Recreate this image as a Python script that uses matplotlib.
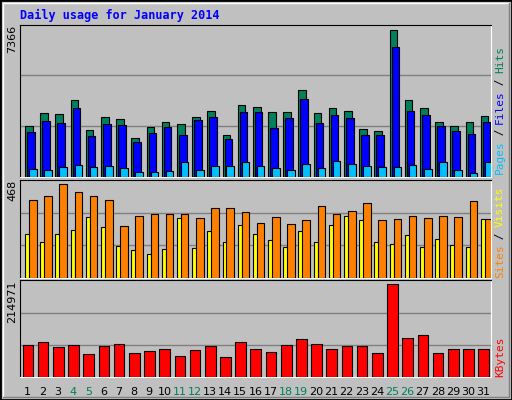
import matplotlib
matplotlib.use("Agg")
import matplotlib.pyplot as plt
from matplotlib.patches import Rectangle
import numpy as np

days = list(range(1, 32))
weekend = [4, 5, 11, 12, 18, 19, 25, 26]
hits = [2566,3216,3166,3866,2366,3016,2916,1966,2516,2766,2666,3016,3316,2116,3616,3516,3266,3266,4366,3216,3466,3316,2416,2316,7366,3866,3466,2766,2566,2766,3066]
files = [2266,2816,2716,3466,2066,2666,2616,1766,2216,2516,2116,2866,3016,1916,3266,3266,2466,2966,3916,2716,3116,2966,2116,2116,6516,3316,3116,2566,2316,2166,2766]
pages = [417,367,517,617,517,567,467,267,267,317,767,367,567,567,767,567,467,367,667,467,817,667,567,517,517,617,417,767,367,217,767]
visits = [387,412,468,432,412,387,259,310,320,320,320,300,351,351,331,275,305,270,290,361,320,336,376,290,295,310,300,310,305,382,295]
sites = [219,178,219,239,305,254,158,137,117,142,300,148,234,178,265,219,188,153,234,178,265,310,290,178,168,214,153,193,163,153,295]
kbytes = [73752,80814,69045,73752,52568,71398,76106,54922,59630,64337,47860,61984,71398,45507,80814,64337,57276,73752,87875,76106,64337,71398,71398,54922,214971,90229,97290,54922,64337,64337,64337]

W, Hh = 512, 400
fig = plt.figure(figsize=(W/100, Hh/100), dpi=100)
fig.patch.set_facecolor("#C0C0C0")
mono = "DejaVu Sans Mono"

fig.add_artist(Rectangle((0, 0), 1, 1, transform=fig.transFigure, fill=False, edgecolor="black", lw=2))
fig.add_artist(plt.Line2D([3/W, 3/W, 1-3/W], [3/Hh, 1-3/Hh, 1-3/Hh], transform=fig.transFigure, color="white", lw=1))
fig.add_artist(plt.Line2D([3/W, 1-3/W, 1-3/W], [3/Hh, 3/Hh, 1-3/Hh], transform=fig.transFigure, color="#808080", lw=1))

def mkax(top, bottom):
    ax = fig.add_axes([20/W, 1-bottom/Hh, 471/W, (bottom-top)/Hh])
    ax.set_facecolor("#C0C0C0")
    ax.set_xlim(0.5, 31.5)
    ax.set_xticks([]); ax.set_yticks([])
    for s in ["top", "left"]:
        ax.spines[s].set_color("black")
    for s in ["bottom", "right"]:
        ax.spines[s].set_color("white")
    for f in (1/3, 2/3):
        ax.plot([0, 1], [f, f], transform=ax.transAxes, color="#808080", lw=1, zorder=1)
    return ax

x = np.array(days)
ec = dict(edgecolor="black", linewidth=0.8, align="edge", zorder=3)

ax1 = mkax(24.7, 177)
ax1.set_ylim(0, max(hits) * 1.033)
ax1.bar(x - 0.17, hits, 0.5, color="#00805C", **ec)
ax1.bar(x - 0.04, files, 0.5, color="#0000FF", **ec)
ax1.bar(x + 0.09, pages, 0.5, color="#00C0FF", **ec)

ax2 = mkax(180, 277.5)
ax2.set_ylim(0, max(visits) * 1.047)
ax2.bar(x - 0.17, sites, 0.31, color="#FFFF00", **ec)
ax2.bar(x + 0.09, visits, 0.5, color="#FF8000", **ec)

ax3 = mkax(280.3, 377)
ax3.set_ylim(0, max(kbytes) * 1.044)
ax3.bar(x - 0.33, kbytes, 0.7, color="#FF0000", **ec)

fig.text(20/W, 1-15/Hh, "Daily usage for January 2014", color="#0000FF", fontsize=8.5,
         fontweight="bold", family=mono, va="center", ha="left")

for ax, val in ((ax1, max(hits)), (ax2, max(visits)), (ax3, max(kbytes))):
    ax.text(-8/471, 1, str(val), transform=ax.transAxes, rotation=90, ha="center", va="top",
            fontsize=8, family="DejaVu Sans", color="black")

for d in days:
    ax3.text(d, -0.1, str(d), transform=ax3.get_xaxis_transform(), ha="center", va="top",
             fontsize=8, color="#00805C" if d in weekend else "black")

def side(ax, parts, start):
    y = start
    for txt, col in parts:
        ax.text(1 + 9/471, y, txt, transform=ax.transAxes, rotation=90, ha="center", va="bottom",
                fontsize=8, family=mono, color=col)
        y += len(txt) * 6.3 / ax.bbox.height

side(ax1, [("Pages", "#00C0FF"), (" / ", "#000000"), ("Files", "#0000FF"), (" / ", "#000000"), ("Hits", "#00805C")], 0.02)
side(ax2, [("Sites", "#FF8000"), (" / ", "#000000"), ("Visits", "#FFFF00")], 0.0)
side(ax3, [("KBytes", "#FF0000")], 0.0)

fig.savefig("out.png", dpi=100, facecolor=fig.get_facecolor())
